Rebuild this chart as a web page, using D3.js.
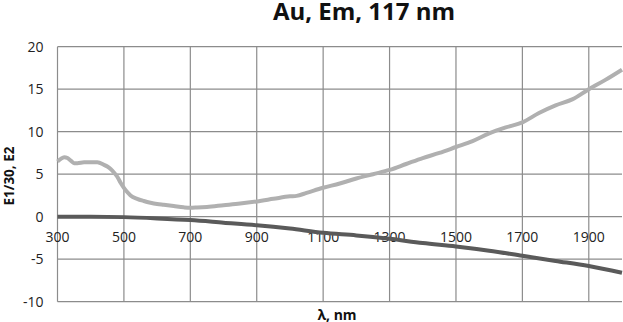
<!DOCTYPE html>
<html>
<head>
<meta charset="utf-8">
<script src="https://d3js.org/d3.v7.min.js"></script>
<style>
  html, body { margin: 0; padding: 0; background: #fff; }
  svg { display: block; }
</style>
</head>
<body>
<div id="chart"></div>
<script>
// E1/30 (light curve)
const waveE1 = [300, 310, 320, 330, 340, 350, 360, 380, 400, 420, 440, 450, 460, 470, 480, 490,
  500, 510, 520, 540, 560, 580, 600, 620, 650, 680, 700, 720, 750, 800, 850, 900, 950,
  1000, 1020, 1050, 1100, 1150, 1200, 1250, 1300, 1350, 1400, 1450, 1500, 1550, 1600,
  1650, 1700, 1750, 1800, 1850, 1900, 1950, 2000];
const e1over30 = [6.5, 6.8, 7.0, 6.9, 6.6, 6.3, 6.3, 6.4, 6.4, 6.4, 6.1, 5.9, 5.6, 5.2, 4.7, 4.0,
  3.4, 2.9, 2.5, 2.1, 1.85, 1.65, 1.5, 1.4, 1.25, 1.1, 1.05, 1.08, 1.15, 1.35, 1.55, 1.8, 2.1,
  2.4, 2.45, 2.8, 3.4, 3.9, 4.5, 5.0, 5.5, 6.2, 6.9, 7.5, 8.2, 8.9, 9.8,
  10.5, 11.1, 12.2, 13.1, 13.8, 15.0, 16.1, 17.3];

// E2 (dark curve)
const waveE2 = [300, 400, 500, 600, 700, 800, 900, 1000, 1100, 1200, 1300, 1400, 1500, 1600,
  1700, 1800, 1900, 2000];
const e2 = [0, 0, -0.05, -0.2, -0.4, -0.7, -1.0, -1.4, -1.9, -2.2, -2.6, -3.1, -3.5, -4.0,
  -4.6, -5.2, -5.8, -6.6];

const xTicks = [300, 500, 700, 900, 1100, 1300, 1500, 1700, 1900];
const yTicks = [-10, -5, 0, 5, 10, 15, 20];

const width = 623, height = 322;
const margin = { top: 46.7, right: 1, bottom: 20.3, left: 57.5 };
const innerWidth = width - margin.left - margin.right;
const innerHeight = height - margin.top - margin.bottom;
const font = '"Open Sans", Lato, sans-serif';

const svg = d3.select('#chart')
  .append('svg')
  .attr('width', width)
  .attr('height', height);

const g = svg.append('g')
  .attr('transform', `translate(${margin.left},${margin.top})`);

const x = d3.scaleLinear().domain([300, 2000]).range([0, innerWidth]);
const y = d3.scaleLinear().domain([-10, 20]).range([innerHeight, 0]);

// grid lines
g.append('g')
  .selectAll('line')
  .data(yTicks)
  .join('line')
  .attr('x1', 0)
  .attr('x2', innerWidth)
  .attr('y1', d => y(d))
  .attr('y2', d => y(d))
  .attr('stroke', '#8c8c8c')
  .attr('stroke-width', 1.2);

g.append('g')
  .selectAll('line')
  .data(xTicks)
  .join('line')
  .attr('x1', d => x(d))
  .attr('x2', d => x(d))
  .attr('y1', 0)
  .attr('y2', innerHeight)
  .attr('stroke', '#8c8c8c')
  .attr('stroke-width', 1.2);

// y tick labels
g.append('g')
  .selectAll('text')
  .data(yTicks)
  .join('text')
  .attr('x', -14)
  .attr('y', d => y(d))
  .attr('dy', '0.35em')
  .attr('text-anchor', 'end')
  .attr('font-family', font)
  .attr('font-size', 14)
  .attr('fill', '#222')
  .text(d => d);

// x tick labels (below the zero line)
g.append('g')
  .selectAll('text')
  .data(xTicks)
  .join('text')
  .attr('x', d => x(d))
  .attr('y', y(0) + 25.5)
  .attr('text-anchor', 'middle')
  .attr('font-family', font)
  .attr('font-size', 14)
  .attr('fill', '#222')
  .text(d => d);

// curves
const line = d3.line()
  .x(d => x(d[0]))
  .y(d => y(d[1]))
  .curve(d3.curveMonotoneX);

g.append('path')
  .datum(waveE2.map((w, i) => [w, e2[i]]))
  .attr('d', line)
  .attr('fill', 'none')
  .attr('stroke', '#5a5a5a')
  .attr('stroke-width', 4);

g.append('path')
  .datum(waveE1.map((w, i) => [w, e1over30[i]]))
  .attr('d', line)
  .attr('fill', 'none')
  .attr('stroke', '#b0b0b0')
  .attr('stroke-width', 4);

// title
svg.append('text')
  .attr('x', 364)
  .attr('y', 20)
  .attr('text-anchor', 'middle')
  .attr('font-family', font)
  .attr('font-size', 24)
  .attr('font-weight', 'bold')
  .attr('fill', '#111')
  .text('Au, Em, 117 nm');

// axis titles
svg.append('text')
  .attr('x', 337)
  .attr('y', 320)
  .attr('text-anchor', 'middle')
  .attr('font-family', font)
  .attr('font-size', 14)
  .attr('font-weight', 'bold')
  .attr('fill', '#111')
  .text('λ, nm');

svg.append('text')
  .attr('transform', 'translate(14,176) rotate(-90)')
  .attr('text-anchor', 'middle')
  .attr('font-family', font)
  .attr('font-size', 13.5)
  .attr('font-weight', 'bold')
  .attr('fill', '#111')
  .text('E1/30, E2');
</script>
</body>
</html>
